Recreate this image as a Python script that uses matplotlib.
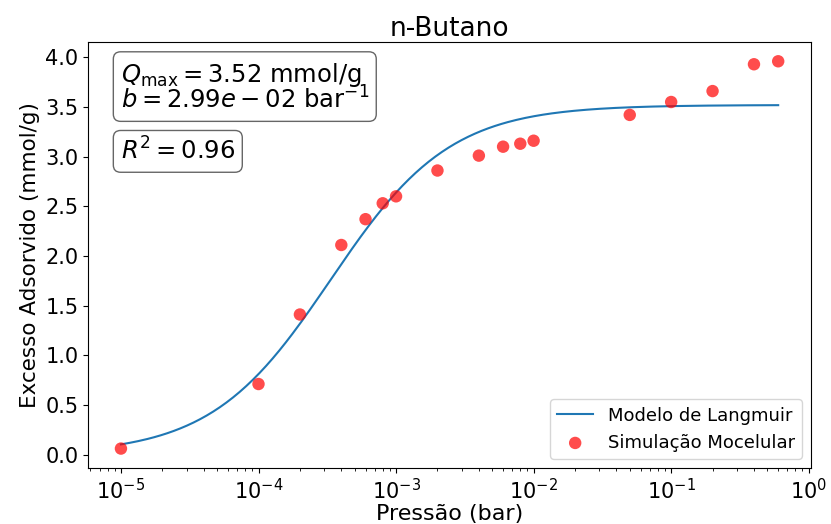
import numpy as np
import matplotlib
matplotlib.use("Agg")
import matplotlib.pyplot as plt

# Dados da simulação molecular (n-Butano)
pressao = [1e-5, 1e-4, 2e-4, 4e-4, 6e-4, 8e-4, 1e-3, 2e-3, 4e-3, 6e-3, 8e-3,
           1e-2, 5e-2, 1e-1, 2e-1, 4e-1, 6e-1]
excesso = [0.06, 0.71, 1.41, 2.11, 2.37, 2.53, 2.60, 2.86, 3.01, 3.10, 3.13,
           3.16, 3.42, 3.55, 3.66, 3.93, 3.96]

# Parâmetros do ajuste de Langmuir (b em Pa^-1)
Q_MAX = 3.52
B_PA = 2.99e-02
R2 = 0.96


def langmuir(p_bar):
    bp = B_PA * 1e5 * p_bar
    return Q_MAX * bp / (1 + bp)


fig = plt.figure(figsize=(8.31, 5.24), dpi=100)
ax = fig.add_axes([0.106, 0.107, 0.87, 0.813])

p_fit = np.logspace(np.log10(min(pressao)), np.log10(max(pressao)), 300)
ax.plot(p_fit, langmuir(p_fit), color="tab:blue", lw=1.5, label="Modelo de Langmuir")
ax.scatter(pressao, excesso, s=80, color="red", alpha=0.7, edgecolors="none",
           label="Simulação Mocelular", zorder=3)

ax.set_xscale("log")
ax.set_title("n-Butano", fontsize=19, pad=4)
ax.set_xlabel("Pressão (bar)", fontsize=16, labelpad=1)
ax.set_ylabel("Excesso Adsorvido (mmol/g)", fontsize=15.5)
ax.tick_params(axis="both", labelsize=15)

caixa = dict(boxstyle="round,pad=0.3", facecolor="white", edgecolor="0.4")
ax.text(0.045, 0.955,
        r"$Q_{\max} = 3.52$ mmol/g" + "\n" + r"$b = 2.99e-02$ bar$^{-1}$",
        transform=ax.transAxes, fontsize=17.5, va="top", ha="left",
        bbox=caixa, linespacing=0.9)
ax.text(0.045, 0.775, r"$R^2 = 0.96$", transform=ax.transAxes, fontsize=17.5,
        va="top", ha="left", bbox=caixa)

ax.legend(loc="lower right", fontsize=13)

fig.savefig("out.png", dpi=100)
plt.close(fig)
